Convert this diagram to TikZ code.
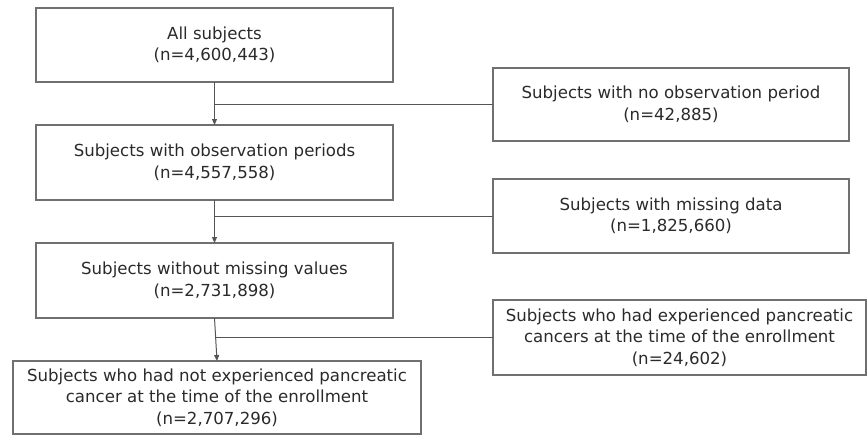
\documentclass[tikz,border=0pt]{standalone}
\usepackage{fontspec}
\setmainfont{DejaVu Sans}
\usetikzlibrary{arrows.meta,calc}
\definecolor{boxline}{HTML}{707070}
\definecolor{conline}{HTML}{555555}
\definecolor{txt}{HTML}{2a2a2a}
\begin{document}
\begin{tikzpicture}[x=1pt,y=-1pt,
  box/.style={draw=boxline,line width=1.2pt,rectangle,inner sep=0pt,outer sep=0pt,
    align=center,text=txt,font=\fontsize{16.6}{21.5}\selectfont},
  link/.style={draw=conline,line width=1pt},
  arr/.style={link,-{Triangle[width=5pt,length=6pt]}}]
\useasboundingbox (0,0) rectangle (868,436);
\node[box,minimum width=357pt,minimum height=74pt] (A) at (214.5,45) {All subjects\\(n=4,600,443)};
\node[box,minimum width=357pt,minimum height=75pt] (B) at (214.5,162.5) {Subjects with observation periods\\(n=4,557,558)};
\node[box,minimum width=357pt,minimum height=75pt] (C) at (214.5,280.5) {Subjects without missing values\\(n=2,731,898)};
\node[box,minimum width=408pt,minimum height=73pt] (D) at (217,397.5) {Subjects who had not experienced pancreatic\\cancer at the time of the enrollment\\(n=2,707,296)};
\node[box,minimum width=356pt,minimum height=73pt] (R1) at (671,104.5) {Subjects with no observation period\\(n=42,885)};
\node[box,minimum width=356pt,minimum height=74pt] (R2) at (671,216) {Subjects with missing data\\(n=1,825,660)};
\node[box,minimum width=373pt,minimum height=75pt] (R3) at (679.5,337.5) {Subjects who had experienced pancreatic\\cancers at the time of the enrollment\\(n=24,602)};
\draw[arr] (A.south) -- (B.north);
\draw[arr] (B.south) -- (C.north);
\draw[arr] (C.south) -- (D.north);
\coordinate (j3) at ($(C.south)!0.465!(D.north)$);
\draw[link] (A.south |- R1.west) -- (R1.west);
\draw[link] (B.south |- R2.west) -- (R2.west);
\draw[link] (j3) -- (j3 -| R3.west);
\end{tikzpicture}
\end{document}
